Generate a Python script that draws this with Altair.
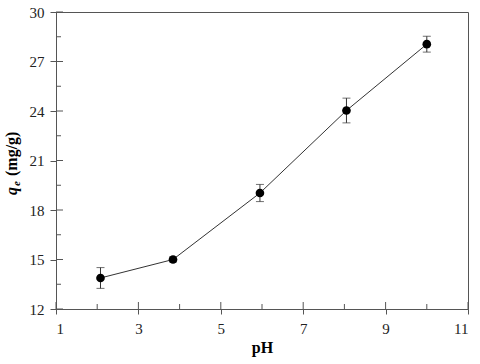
import altair as alt
import pandas as pd

ph = [2.08, 3.84, 5.95, 8.05, 10.0]
qe = [13.88, 15.0, 19.03, 24.03, 28.05]
err = [0.63, 0.15, 0.52, 0.75, 0.48]

x_major = [1, 3, 5, 7, 9, 11]
x_minor = [2, 4, 6, 8, 10]
y_major = [12, 15, 18, 21, 24, 27, 30]
y_minor = [13.5, 16.5, 19.5, 22.5, 25.5, 28.5]

FONT = "Liberation Serif"
AX = "#555555"

df = pd.DataFrame({"ph": ph, "qe": qe, "err": err})
df["lo"] = df["qe"] - df["err"]
df["hi"] = df["qe"] + df["err"]

xs = alt.Scale(domain=[1, 11], nice=False, zero=False)
ys = alt.Scale(domain=[12, 30], nice=False, zero=False)

axX = alt.Axis(values=x_major, title="pH")
axY = alt.Axis(values=y_major, title=None)


def X(f):
    return alt.X(f, scale=xs, axis=axX, title="pH")


def Y(f):
    return alt.Y(f, scale=ys, axis=axY, title=None)


base = alt.Chart(df)

line = base.mark_line(color="#333333", strokeWidth=1).encode(x=X("ph:Q"), y=Y("qe:Q"))

bars = base.mark_rule(color="#333333", strokeWidth=1).encode(
    x=X("ph:Q"), y=Y("lo:Q"), y2="hi:Q")
cap_lo = base.mark_tick(orient="horizontal", size=8, thickness=1, color="#333333").encode(
    x=X("ph:Q"), y=Y("lo:Q"))
cap_hi = base.mark_tick(orient="horizontal", size=8, thickness=1, color="#333333").encode(
    x=X("ph:Q"), y=Y("hi:Q"))

pts = base.mark_point(filled=True, color="black", size=75, opacity=1).encode(
    x=X("ph:Q"), y=Y("qe:Q"))

xmaj = alt.Chart(pd.DataFrame({"v": x_major})).mark_rule(color=AX).encode(
    x=X("v:Q"), y=alt.value(297), y2=alt.value(290))
xmin = alt.Chart(pd.DataFrame({"v": x_minor})).mark_rule(color=AX).encode(
    x=X("v:Q"), y=alt.value(297), y2=alt.value(292))
ymaj = alt.Chart(pd.DataFrame({"v": y_major})).mark_rule(color=AX).encode(
    y=Y("v:Q"), x=alt.value(0), x2=alt.value(7))
ymin = alt.Chart(pd.DataFrame({"v": y_minor})).mark_rule(color=AX).encode(
    y=Y("v:Q"), x=alt.value(0), x2=alt.value(5))

t_q = alt.Chart(pd.DataFrame({"t": ["q"]})).mark_text(
    angle=270, align="left", baseline="alphabetic", font=FONT, fontSize=16,
    fontWeight="bold", fontStyle="italic", color="black").encode(
    text="t:N", x=alt.value(-39), y=alt.value(183))
t_e = alt.Chart(pd.DataFrame({"t": ["e"]})).mark_text(
    angle=270, align="left", baseline="alphabetic", font=FONT, fontSize=11,
    fontWeight="bold", fontStyle="italic", color="black").encode(
    text="t:N", x=alt.value(-36), y=alt.value(174))
t_u = alt.Chart(pd.DataFrame({"t": ["(mg/g)"]})).mark_text(
    angle=270, align="left", baseline="alphabetic", font=FONT, fontSize=16,
    fontWeight="bold", color="black").encode(
    text="t:N", x=alt.value(-39), y=alt.value(164))

chart = alt.layer(line, xmaj, xmin, ymaj, ymin, bars, cap_lo, cap_hi, pts, t_q, t_e, t_u).properties(
    width=412, height=297,
    autosize=alt.AutoSizeParams(type="none"),
    padding={"left": 56, "top": 12, "right": 12, "bottom": 55},
).configure_view(
    stroke=AX, strokeWidth=1
).configure_axis(
    labelFont=FONT, titleFont=FONT, labelFontSize=15, labelColor="#222222",
    titleColor="black", grid=False, domainColor=AX, tickColor=AX,
).configure_axisX(
    tickSize=5, labelPadding=7, titleFontWeight="bold", titleFontSize=16, titlePadding=3,
).configure_axisY(
    tickSize=6, labelPadding=6,
)

chart.save("out.html", embed_options={"renderer": "svg", "actions": False})
